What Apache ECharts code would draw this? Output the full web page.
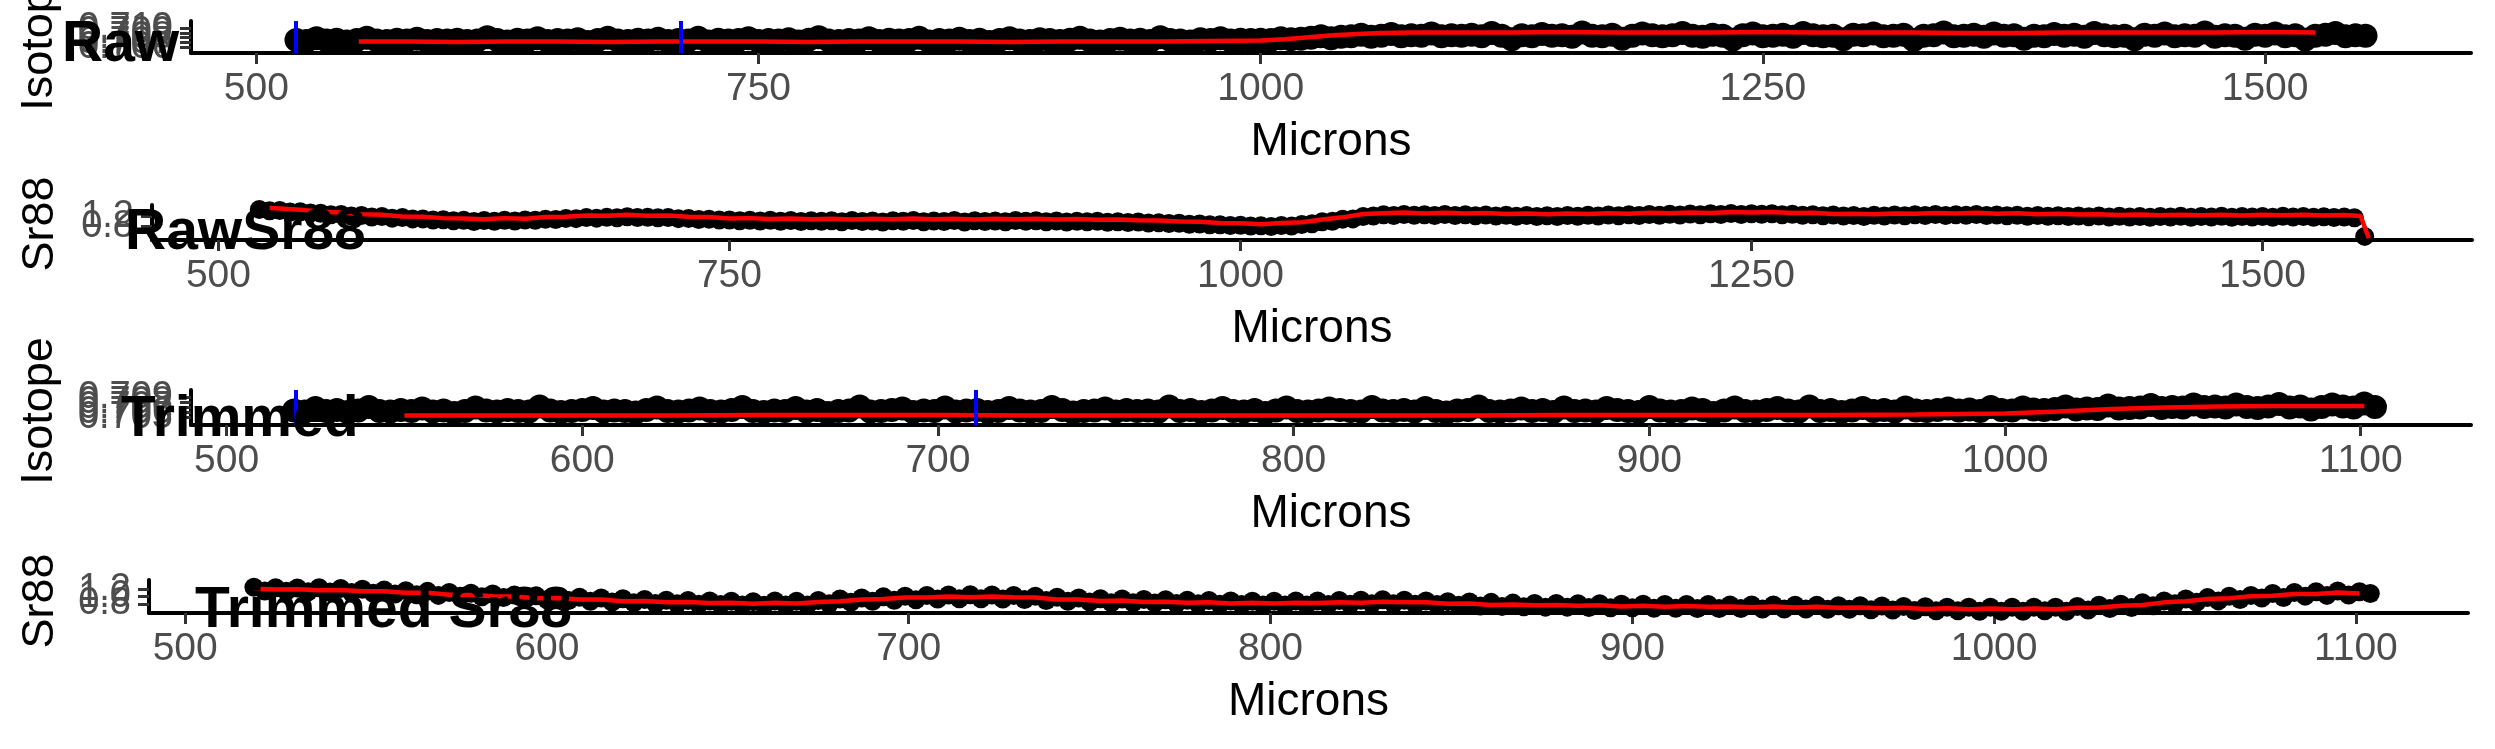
<!DOCTYPE html>
<html>
<head>
<meta charset="utf-8">
<script src="https://cdn.jsdelivr.net/npm/echarts@6/dist/echarts.min.js"></script>
<style>
html,body{margin:0;padding:0;background:#fff;}
#chart{width:2495px;height:749px;}
</style>
</head>
<body>
<div id="chart"></div>
<script>
// ---------- DATA ----------
const panelTitles = ['Raw', 'RawSr88', 'Trimmed', 'Trimmed Sr88'];
const yTitles = ['Isotope', 'Sr88', 'Isotope', 'Sr88'];
const xTitle = 'Microns';

const xTicksRaw = [500, 750, 1000, 1250, 1500];
const xTicksTrim = [500, 600, 700, 800, 900, 1000, 1100];
const yTicksIso1 = [0.705, 0.706, 0.707, 0.708, 0.709, 0.710, 0.711];
const yTicksSrRaw = [0.4, 0.8, 1.2, 1.6];
const yTicksIso3 = [0.704, 0.705, 0.706, 0.707, 0.708, 0.709, 0.710];
const yTicksSrTrim = [0.6, 0.8, 1.0, 1.2, 1.4];

const blueRaw = [519.5, 711.5];
const blueTrim = [519.5, 710.5];

const micronsRaw = [
520,525,530,535,540,545,550,555,560,565,570,575,580,585,590,595,
600,605,610,615,620,625,630,635,640,645,650,655,660,665,670,675,680,685,690,695,
700,705,710,715,720,725,730,735,740,745,750,755,760,765,770,775,780,785,790,795,
800,805,810,815,820,825,830,835,840,845,850,855,860,865,870,875,880,885,890,895,
900,905,910,915,920,925,930,935,940,945,950,955,960,965,970,975,980,985,990,995,
1000,1005,1010,1015,1020,1025,1030,1035,1040,1045,1050,1055,1060,1065,1070,1075,1080,1085,1090,1095,
1100,1105,1110,1115,1120,1125,1130,1135,1140,1145,1150,1155,1160,1165,1170,1175,1180,1185,1190,1195,
1200,1205,1210,1215,1220,1225,1230,1235,1240,1245,1250,1255,1260,1265,1270,1275,1280,1285,1290,1295,
1300,1305,1310,1315,1320,1325,1330,1335,1340,1345,1350,1355,1360,1365,1370,1375,1380,1385,1390,1395,
1400,1405,1410,1415,1420,1425,1430,1435,1440,1445,1450,1455,1460,1465,1470,1475,1480,1485,1490,1495,
1500,1505,1510,1515,1520,1525,1530,1535,1540,1545,1550];

const isotopeRaw = [
0.7075,0.7073,0.7079,0.7074,0.7076,0.7072,0.7075,0.7080,0.7074,0.7073,0.7076,0.7074,0.7078,0.7073,0.7075,0.7074,
0.7076,0.7073,0.7074,0.7081,0.7075,0.7072,0.7076,0.7074,0.7079,0.7073,0.7075,0.7074,0.7077,0.7071,0.7075,0.7080,0.7074,0.7073,0.7076,0.7074,
0.7078,0.7073,0.7075,0.7074,0.7080,0.7072,0.7076,0.7074,0.7075,0.7079,0.7073,0.7075,0.7074,0.7077,0.7072,0.7076,0.7081,0.7074,0.7073,0.7075,
0.7074,0.7079,0.7073,0.7076,0.7074,0.7075,0.7080,0.7072,0.7075,0.7074,0.7078,0.7073,0.7076,0.7071,0.7075,0.7079,0.7074,0.7073,0.7077,0.7075,
0.7073,0.7076,0.7080,0.7074,0.7072,0.7075,0.7078,0.7074,0.7076,0.7073,0.7081,0.7075,0.7074,0.7072,0.7077,0.7075,0.7079,0.7074,0.7076,0.7075,
0.7076,0.7075,0.7079,0.7077,0.7078,0.7080,0.7083,0.7079,0.7082,0.7083,0.7086,0.7082,0.7084,0.7088,0.7083,0.7085,0.7084,0.7089,0.7083,0.7085,
0.7084,0.7086,0.7083,0.7090,0.7084,0.7077,0.7085,0.7083,0.7088,0.7084,0.7085,0.7082,0.7091,0.7084,0.7083,0.7086,0.7078,0.7084,0.7089,0.7085,
0.7083,0.7085,0.7090,0.7084,0.7082,0.7086,0.7084,0.7076,0.7085,0.7089,0.7083,0.7084,0.7086,0.7082,0.7090,0.7085,0.7083,0.7084,0.7077,0.7086,
0.7085,0.7089,0.7083,0.7084,0.7086,0.7075,0.7084,0.7085,0.7091,0.7083,0.7084,0.7086,0.7082,0.7089,0.7084,0.7085,0.7078,0.7084,0.7083,0.7088,
0.7084,0.7086,0.7082,0.7090,0.7085,0.7083,0.7084,0.7077,0.7086,0.7084,0.7089,0.7083,0.7085,0.7084,0.7091,0.7082,0.7085,0.7084,0.7078,0.7086,
0.7084,0.7089,0.7083,0.7085,0.7076,0.7084,0.7086,0.7090,0.7083,0.7085,0.7084];

const sr88Raw = [
1.47,1.42,1.43,1.37,1.38,1.33,1.32,1.26,1.27,1.21,1.23,1.17,1.19,1.13,1.15,1.10,
1.10,1.06,1.07,1.03,1.05,1.00,1.04,1.01,1.05,1.02,1.06,1.05,1.09,1.08,1.12,1.11,1.15,1.13,1.16,1.14,
1.18,1.15,1.16,1.14,1.15,1.11,1.12,1.08,1.09,1.06,1.06,1.03,1.05,1.02,1.05,1.01,1.04,1.00,1.03,1.01,
1.03,0.99,1.04,1.00,1.02,0.98,1.03,1.01,1.04,0.99,1.02,1.00,1.04,0.98,1.03,1.00,1.02,0.99,1.04,1.01,
1.03,0.99,1.02,0.98,1.01,0.99,1.01,0.97,0.99,0.96,0.98,0.94,0.95,0.92,0.93,0.89,0.90,0.87,0.87,0.84,
0.85,0.82,0.83,0.80,0.84,0.82,0.88,0.91,0.99,1.01,1.09,1.10,1.19,1.21,1.26,1.23,1.27,1.24,1.26,1.23,
1.27,1.23,1.26,1.22,1.25,1.21,1.24,1.20,1.23,1.19,1.22,1.19,1.23,1.20,1.24,1.21,1.25,1.22,1.26,1.23,
1.27,1.24,1.28,1.25,1.29,1.26,1.30,1.27,1.31,1.27,1.30,1.28,1.30,1.26,1.28,1.24,1.26,1.22,1.25,1.21,
1.23,1.19,1.24,1.21,1.25,1.22,1.26,1.23,1.27,1.23,1.26,1.24,1.27,1.23,1.25,1.22,1.24,1.20,1.23,1.20,
1.22,1.19,1.21,1.18,1.21,1.17,1.20,1.17,1.19,1.16,1.19,1.17,1.20,1.16,1.19,1.17,1.20,1.16,1.19,1.17,
1.19,1.16,1.20,1.17,1.19,1.16,1.18,1.15,1.17,1.14,0.42];

// red running means, raw
const redIsoRawX = [551,575,600,625,650,675,700,725,750,775,800,825,850,875,900,925,950,975,1000,
1012,1024,1036,1048,1060,1075,1100,1125,1150,1175,1200,1225,1250,1275,1300,1325,1350,1375,1400,1425,1450,1475,1500,1525];
const redIsoRawY = [0.7072,0.7072,0.7071,0.7072,0.7072,0.7071,0.7072,0.7072,0.7072,0.7071,0.7072,0.7072,0.7072,0.7071,0.7072,0.7072,0.7072,0.7073,0.7074,
0.7077,0.7081,0.7085,0.7088,0.7090,0.7091,0.7091,0.7091,0.7092,0.7091,0.7091,0.7091,0.7092,0.7091,0.7091,0.7091,0.7090,0.7090,0.7091,0.7091,0.7091,0.7091,0.7092,0.7091];

const redSrRawX = [
525,530,540,550,560,570,580,590,600,610,620,630,640,650,660,670,680,690,700,710,
720,730,740,750,760,770,780,790,800,810,820,830,840,850,860,870,880,890,900,910,
920,930,940,950,960,970,980,990,1000,1010,1020,1030,1040,1050,1060,1070,1080,1090,1100,1110,
1120,1130,1140,1150,1160,1170,1180,1190,1200,1210,1220,1230,1240,1250,1260,1270,1280,1290,1300,1310,
1320,1330,1340,1350,1360,1370,1380,1390,1400,1410,1420,1430,1440,1450,1460,1470,1480,1490,1500,1510,
1520,1530,1540,1548,1552];
const redSrRawY = [
1.52,1.50,1.46,1.38,1.35,1.28,1.26,1.19,1.18,1.13,1.12,1.09,1.13,1.11,1.17,1.18,1.23,1.22,1.26,1.22,
1.23,1.18,1.17,1.12,1.13,1.10,1.12,1.09,1.11,1.08,1.11,1.09,1.12,1.09,1.11,1.08,1.11,1.09,1.11,1.08,
1.10,1.07,1.08,1.05,1.04,1.00,0.99,0.94,0.93,0.89,0.94,0.97,1.08,1.16,1.29,1.32,1.35,1.31,1.34,1.31,
1.33,1.29,1.31,1.28,1.31,1.29,1.32,1.30,1.34,1.32,1.35,1.33,1.37,1.35,1.37,1.33,1.34,1.29,1.30,1.28,
1.31,1.30,1.33,1.31,1.34,1.30,1.32,1.28,1.30,1.27,1.28,1.25,1.27,1.24,1.26,1.24,1.26,1.23,1.26,1.24,
1.26,1.23,1.25,1.21,0.36];

const micronsTrim = [
519,522,525,528,531,534,537,540,543,546,549,552,555,558,561,564,567,570,573,576,
579,582,585,588,591,594,597,600,603,606,609,612,615,618,621,624,627,630,633,636,
639,642,645,648,651,654,657,660,663,666,669,672,675,678,681,684,687,690,693,696,
699,702,705,708,711,714,717,720,723,726,729,732,735,738,741,744,747,750,753,756,
759,762,765,768,771,774,777,780,783,786,789,792,795,798,801,804,807,810,813,816,
819,822,825,828,831,834,837,840,843,846,849,852,855,858,861,864,867,870,873,876,
879,882,885,888,891,894,897,900,903,906,909,912,915,918,921,924,927,930,933,936,
939,942,945,948,951,954,957,960,963,966,969,972,975,978,981,984,987,990,993,996,
999,1002,1005,1008,1011,1014,1017,1020,1023,1026,1029,1032,1035,1038,1041,1044,1047,1050,1053,1056,
1059,1062,1065,1068,1071,1074,1077,1080,1083,1086,1089,1092,1095,1098,1101,1104];

const isotopeTrim = [
0.7064,0.7062,0.7069,0.7063,0.7065,0.7061,0.7064,0.7071,0.7063,0.7062,0.7065,0.7063,0.7068,0.7062,0.7064,0.7059,0.7063,0.7070,0.7064,0.7062,
0.7065,0.7063,0.7062,0.7072,0.7064,0.7061,0.7063,0.7065,0.7069,0.7062,0.7064,0.7063,0.7060,0.7065,0.7070,0.7063,0.7062,0.7064,0.7068,0.7063,
0.7062,0.7065,0.7071,0.7063,0.7061,0.7064,0.7063,0.7069,0.7062,0.7065,0.7059,0.7063,0.7064,0.7072,0.7062,0.7063,0.7065,0.7068,0.7061,0.7064,
0.7063,0.7070,0.7062,0.7064,0.7065,0.7061,0.7063,0.7069,0.7064,0.7062,0.7063,0.7071,0.7065,0.7060,0.7063,0.7064,0.7068,0.7062,0.7065,0.7063,
0.7064,0.7062,0.7072,0.7063,0.7065,0.7061,0.7064,0.7069,0.7063,0.7062,0.7065,0.7059,0.7064,0.7070,0.7063,0.7062,0.7064,0.7068,0.7065,0.7063,
0.7062,0.7071,0.7064,0.7063,0.7065,0.7062,0.7069,0.7063,0.7060,0.7064,0.7065,0.7072,0.7063,0.7062,0.7064,0.7068,0.7063,0.7065,0.7061,0.7070,
0.7063,0.7064,0.7062,0.7069,0.7065,0.7063,0.7061,0.7071,0.7064,0.7062,0.7063,0.7068,0.7065,0.7059,0.7064,0.7070,0.7063,0.7062,0.7065,0.7069,
0.7064,0.7062,0.7072,0.7063,0.7065,0.7061,0.7064,0.7069,0.7063,0.7065,0.7062,0.7070,0.7064,0.7063,0.7065,0.7068,0.7064,0.7066,0.7063,0.7071,
0.7065,0.7064,0.7070,0.7066,0.7065,0.7067,0.7072,0.7066,0.7068,0.7067,0.7074,0.7068,0.7069,0.7070,0.7075,0.7069,0.7071,0.7070,0.7076,0.7071,
0.7072,0.7070,0.7076,0.7071,0.7069,0.7072,0.7077,0.7070,0.7072,0.7066,0.7071,0.7076,0.7072,0.7070,0.7078,0.7071];

const sr88Trim = [
1.25,1.15,1.24,1.14,1.23,1.13,1.24,1.12,1.22,1.11,1.20,1.09,1.18,1.07,1.16,1.05,1.14,1.03,1.11,1.01,
1.09,0.99,1.07,0.97,1.04,0.93,1.02,0.91,1.00,0.89,0.98,0.87,0.96,0.85,0.94,0.83,0.92,0.81,0.90,0.80,
0.89,0.79,0.88,0.78,0.87,0.77,0.86,0.76,0.88,0.77,0.87,0.77,0.89,0.80,0.93,0.84,0.96,0.87,0.99,0.90,
1.01,0.91,1.03,0.93,1.04,0.94,1.05,0.94,1.04,0.93,1.03,0.92,1.01,0.89,0.98,0.87,0.96,0.85,0.94,0.83,
0.93,0.83,0.92,0.82,0.91,0.81,0.90,0.80,0.89,0.79,0.88,0.78,0.87,0.77,0.87,0.77,0.88,0.77,0.88,0.78,
0.89,0.79,0.90,0.80,0.91,0.80,0.90,0.79,0.88,0.78,0.86,0.76,0.85,0.74,0.84,0.73,0.82,0.72,0.81,0.71,
0.81,0.71,0.80,0.70,0.80,0.69,0.79,0.69,0.79,0.68,0.78,0.68,0.78,0.67,0.78,0.67,0.77,0.67,0.77,0.66,
0.77,0.66,0.76,0.66,0.76,0.65,0.75,0.65,0.75,0.64,0.74,0.63,0.73,0.62,0.72,0.61,0.71,0.61,0.71,0.60,
0.71,0.60,0.71,0.60,0.71,0.61,0.71,0.60,0.73,0.63,0.76,0.67,0.79,0.70,0.83,0.75,0.88,0.80,0.93,0.84,
0.97,0.88,1.01,0.92,1.03,0.96,1.08,0.97,1.11,1.01,1.13,1.03,1.15,1.04,1.13,1.08];

const redIsoTrimX = [550,575,600,625,650,675,700,725,750,775,800,825,850,875,900,925,950,975,1000,1015,1030,1045,1060,1075,1090,1101];
const redIsoTrimY = [0.7054,0.7054,0.7054,0.7054,0.7055,0.7055,0.7055,0.7054,0.7054,0.7054,0.7054,0.7054,0.7054,0.7055,0.7055,0.7055,0.7055,0.7056,0.7058,0.7062,0.7067,0.7070,0.7072,0.7073,0.7073,0.7073];

const redSrTrimX = [
519,525,531,537,543,549,555,561,567,573,
579,585,591,597,603,609,615,621,627,633,
639,645,651,657,663,669,675,681,687,693,
699,705,711,717,723,729,735,741,747,753,
759,765,771,777,783,789,795,801,807,813,
819,825,831,837,843,849,855,861,867,873,
879,885,891,897,903,909,915,921,927,933,
939,945,951,957,963,969,975,981,987,993,
999,1005,1011,1017,1023,1029,1035,1041,1047,1053,
1059,1065,1071,1077,1083,1089,1095,1101];
const redSrTrimY = [
1.21,1.19,1.20,1.17,1.18,1.14,1.14,1.10,1.10,1.05,
1.05,1.01,1.00,0.95,0.96,0.92,0.92,0.87,0.88,0.84,
0.85,0.82,0.83,0.80,0.83,0.81,0.85,0.87,0.92,0.93,
0.97,0.97,1.00,0.98,1.00,0.98,0.97,0.92,0.92,0.88,
0.89,0.85,0.86,0.83,0.84,0.81,0.83,0.81,0.83,0.82,
0.84,0.83,0.86,0.84,0.84,0.80,0.81,0.77,0.78,0.76,
0.77,0.75,0.76,0.73,0.75,0.72,0.74,0.72,0.73,0.71,
0.73,0.70,0.72,0.69,0.70,0.68,0.69,0.66,0.68,0.65,
0.67,0.65,0.67,0.65,0.69,0.70,0.75,0.77,0.84,0.87,
0.93,0.95,1.01,1.02,1.07,1.07,1.11,1.08];

// ---------- CHART ----------
const FONT = '"Liberation Sans", Arial, Helvetica, sans-serif';
const pair = (xs, ys) => xs.map((x, i) => [x, ys[i]]);

const grids = [
  {left: 191, top: 21, width: 2280, height: 32},
  {left: 152, top: 205, width: 2320, height: 35},
  {left: 191, top: 390, width: 2280, height: 35},
  {left: 149, top: 580, width: 2319, height: 33}
];
const xRanges = [[467.5, 1602.5], [467.5, 1602.5], [490, 1131], [490, 1131]];
const yRanges = [[0.7048, 0.7115], [0.28, 1.64], [0.7035, 0.7105], [0.55, 1.45]];
const xTicks = [xTicksRaw, xTicksRaw, xTicksTrim, xTicksTrim];
const yTicks = [yTicksIso1, yTicksSrRaw, yTicksIso3, yTicksSrTrim];
const yDigits = [3, 1, 3, 1];
const pointSizes = [24, 19, 24, 19];

const xAxes = grids.map((g, i) => ({
  type: 'value', gridIndex: i, min: xRanges[i][0], max: xRanges[i][1],
  splitLine: {show: false},
  axisLine: {onZero: false, lineStyle: {color: '#000', width: 4}},
  axisTick: {show: true, length: 11, customValues: xTicks[i], lineStyle: {color: '#333', width: 3}},
  axisLabel: {customValues: xTicks[i], color: '#4D4D4D', fontSize: 39, fontFamily: FONT, margin: 17,
    formatter: v => String(Math.round(v))},
  name: xTitle, nameLocation: 'middle', nameGap: 66,
  nameTextStyle: {color: '#000', fontSize: 46, fontFamily: FONT}
}));
const yAxes = grids.map((g, i) => ({
  type: 'value', gridIndex: i, min: yRanges[i][0], max: yRanges[i][1],
  splitLine: {show: false},
  axisLine: {show: true, onZero: false, lineStyle: {color: '#000', width: 4}},
  axisTick: {show: true, length: 11, customValues: yTicks[i], lineStyle: {color: '#333', width: 3}},
  axisLabel: {customValues: yTicks[i], color: '#4D4D4D', fontSize: 38, fontFamily: FONT, margin: 18,
    formatter: v => Number(v).toFixed(yDigits[i])}
}));

function blueMark(vals) {
  return {
    symbol: 'none', silent: true, animation: false,
    label: {show: false},
    lineStyle: {color: '#0000FF', width: 4, type: 'solid'},
    data: vals.map(v => ({xAxis: v}))
  };
}

const pointStyle = {type: 'scatter', symbol: 'circle', itemStyle: {color: '#000', opacity: 1}, z: 2, silent: true, clip: false};
const redStyle = {type: 'line', showSymbol: false, symbol: 'none', lineStyle: {color: '#FF0000', width: 4.5}, z: 3, silent: true};

const series = [
  Object.assign({}, pointStyle, {xAxisIndex: 0, yAxisIndex: 0, symbolSize: pointSizes[0], data: pair(micronsRaw, isotopeRaw)}),
  Object.assign({}, redStyle, {xAxisIndex: 0, yAxisIndex: 0, data: pair(redIsoRawX, redIsoRawY), markLine: blueMark(blueRaw)}),
  Object.assign({}, pointStyle, {xAxisIndex: 1, yAxisIndex: 1, symbolSize: pointSizes[1], data: pair(micronsRaw, sr88Raw)}),
  Object.assign({}, redStyle, {xAxisIndex: 1, yAxisIndex: 1, data: pair(redSrRawX, redSrRawY)}),
  Object.assign({}, pointStyle, {xAxisIndex: 2, yAxisIndex: 2, symbolSize: pointSizes[2], data: pair(micronsTrim, isotopeTrim)}),
  Object.assign({}, redStyle, {xAxisIndex: 2, yAxisIndex: 2, data: pair(redIsoTrimX, redIsoTrimY), markLine: blueMark(blueTrim)}),
  Object.assign({}, pointStyle, {xAxisIndex: 3, yAxisIndex: 3, symbolSize: pointSizes[3], data: pair(micronsTrim, sr88Trim)}),
  Object.assign({}, redStyle, {xAxisIndex: 3, yAxisIndex: 3, data: pair(redSrTrimX, redSrTrimY)})
];

const titlePos = [[62, 45], [125, 233], [121, 420], [195, 611]];
const yTitlePos = [[40, 37], [41, 224], [40, 411], [41, 601]];

const graphics = [];
panelTitles.forEach((t, i) => graphics.push({
  type: 'text', x: titlePos[i][0], y: titlePos[i][1], z: 100, silent: true,
  style: {text: t, fill: '#000', fontSize: 57, fontWeight: 'bold', fontFamily: FONT, align: 'left', verticalAlign: 'middle'}
}));
yTitles.forEach((t, i) => graphics.push({
  type: 'text', x: yTitlePos[i][0], y: yTitlePos[i][1], rotation: Math.PI / 2, z: 100, silent: true,
  style: {text: t, fill: '#000', fontSize: 45, fontFamily: FONT, align: 'center', verticalAlign: 'middle'}
}));

const chart = echarts.init(document.getElementById('chart'), null, {renderer: 'canvas'});
chart.setOption({
  animation: false,
  backgroundColor: '#fff',
  grid: grids,
  xAxis: xAxes,
  yAxis: yAxes,
  series: series,
  graphic: graphics
});
</script>
</body>
</html>
